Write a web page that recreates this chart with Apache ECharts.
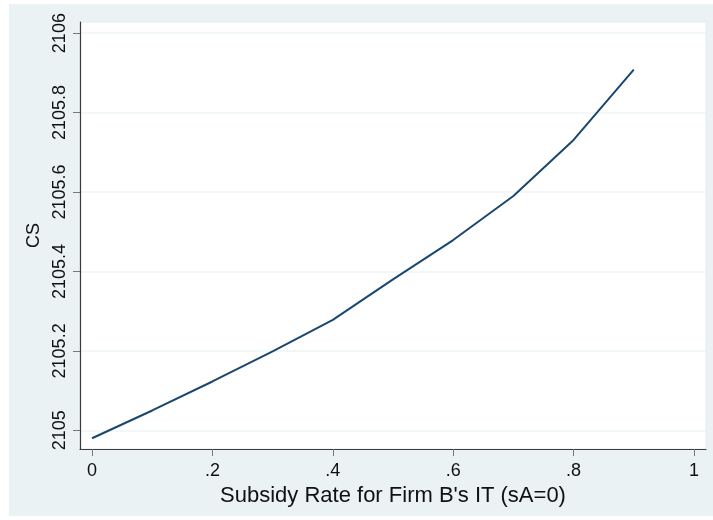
<!DOCTYPE html>
<html>
<head>
<meta charset="utf-8">
<script src="https://cdn.jsdelivr.net/npm/echarts@6/dist/echarts.min.js"></script>
<style>
  html, body { margin: 0; padding: 0; background: #ffffff; }
  #frame { position: absolute; left: 9px; top: 4px; width: 704px; height: 512px; background: #eaf2f3; }
  #chart { position: absolute; left: 0; top: 0; width: 713px; height: 520px; }
</style>
</head>
<body>
<div id="frame"></div>
<div id="chart"></div>
<script>
// Subsidy rate for firm B's IT (with sA = 0) and consumer surplus
const subsidyRates = [0, 0.1, 0.2, 0.3, 0.4, 0.5, 0.6, 0.7, 0.8, 0.9];
const csValues = [2104.980, 2105.050, 2105.123, 2105.199, 2105.278, 2105.380, 2105.479, 2105.590, 2105.731, 2105.908];
const xTicks = [0, 0.2, 0.4, 0.6, 0.8, 1];
const yTicks = [2105, 2105.2, 2105.4, 2105.6, 2105.8, 2106];

const fmtX = v => {
  const r = Math.round(v * 10) / 10;
  if (r === 0) return '0';
  if (r === 1) return '1';
  return String(r).replace(/^0/, '');
};
const fmtY = v => {
  const r = Math.round(v * 10) / 10;
  return Number.isInteger(r) ? String(r) : r.toFixed(1);
};

const font = '"Liberation Sans", Arial, sans-serif';
const chart = echarts.init(document.getElementById('chart'), null, { renderer: 'canvas' });

chart.setOption({
  animation: false,
  backgroundColor: 'transparent',
  grid: {
    left: 80, top: 22, right: 7, bottom: 71,
    show: true, backgroundColor: '#ffffff', borderColor: '#e4ecef', borderWidth: 1
  },
  xAxis: {
    type: 'value',
    min: -0.02, max: 1.02,
    name: "Subsidy Rate for Firm B's IT (sA=0)",
    nameLocation: 'middle', nameGap: 27,
    nameTextStyle: { fontFamily: font, fontSize: 22, color: '#111' },
    axisLine: { show: true, onZero: false, lineStyle: { color: '#3a3a3a', width: 1.2 } },
    axisTick: { show: true, length: 7, customValues: xTicks, lineStyle: { color: '#777' } },
    axisLabel: { customValues: xTicks, formatter: fmtX, margin: 13, fontFamily: font, fontSize: 18, color: '#111' },
    splitLine: { show: false }
  },
  yAxis: {
    type: 'value',
    min: 2104.953, max: 2106.028,
    name: 'CS',
    nameLocation: 'middle', nameGap: 30,
    nameTextStyle: { fontFamily: font, fontSize: 18, color: '#111' },
    axisLine: { show: true, onZero: false, lineStyle: { color: '#3a3a3a', width: 1.2 } },
    axisTick: { show: true, length: 7, customValues: yTicks, lineStyle: { color: '#777' } },
    axisLabel: { customValues: yTicks, formatter: fmtY, rotate: 90, margin: 11, fontFamily: font, fontSize: 18, color: '#111' },
    splitLine: { show: true, customValues: yTicks, lineStyle: { color: '#eef4f5', width: 1.5 } }
  },
  series: [{
    type: 'line',
    data: subsidyRates.map((x, i) => [x, csValues[i]]),
    showSymbol: false,
    lineStyle: { color: '#1a476f', width: 2 },
    z: 3
  }]
});
</script>
</body>
</html>
